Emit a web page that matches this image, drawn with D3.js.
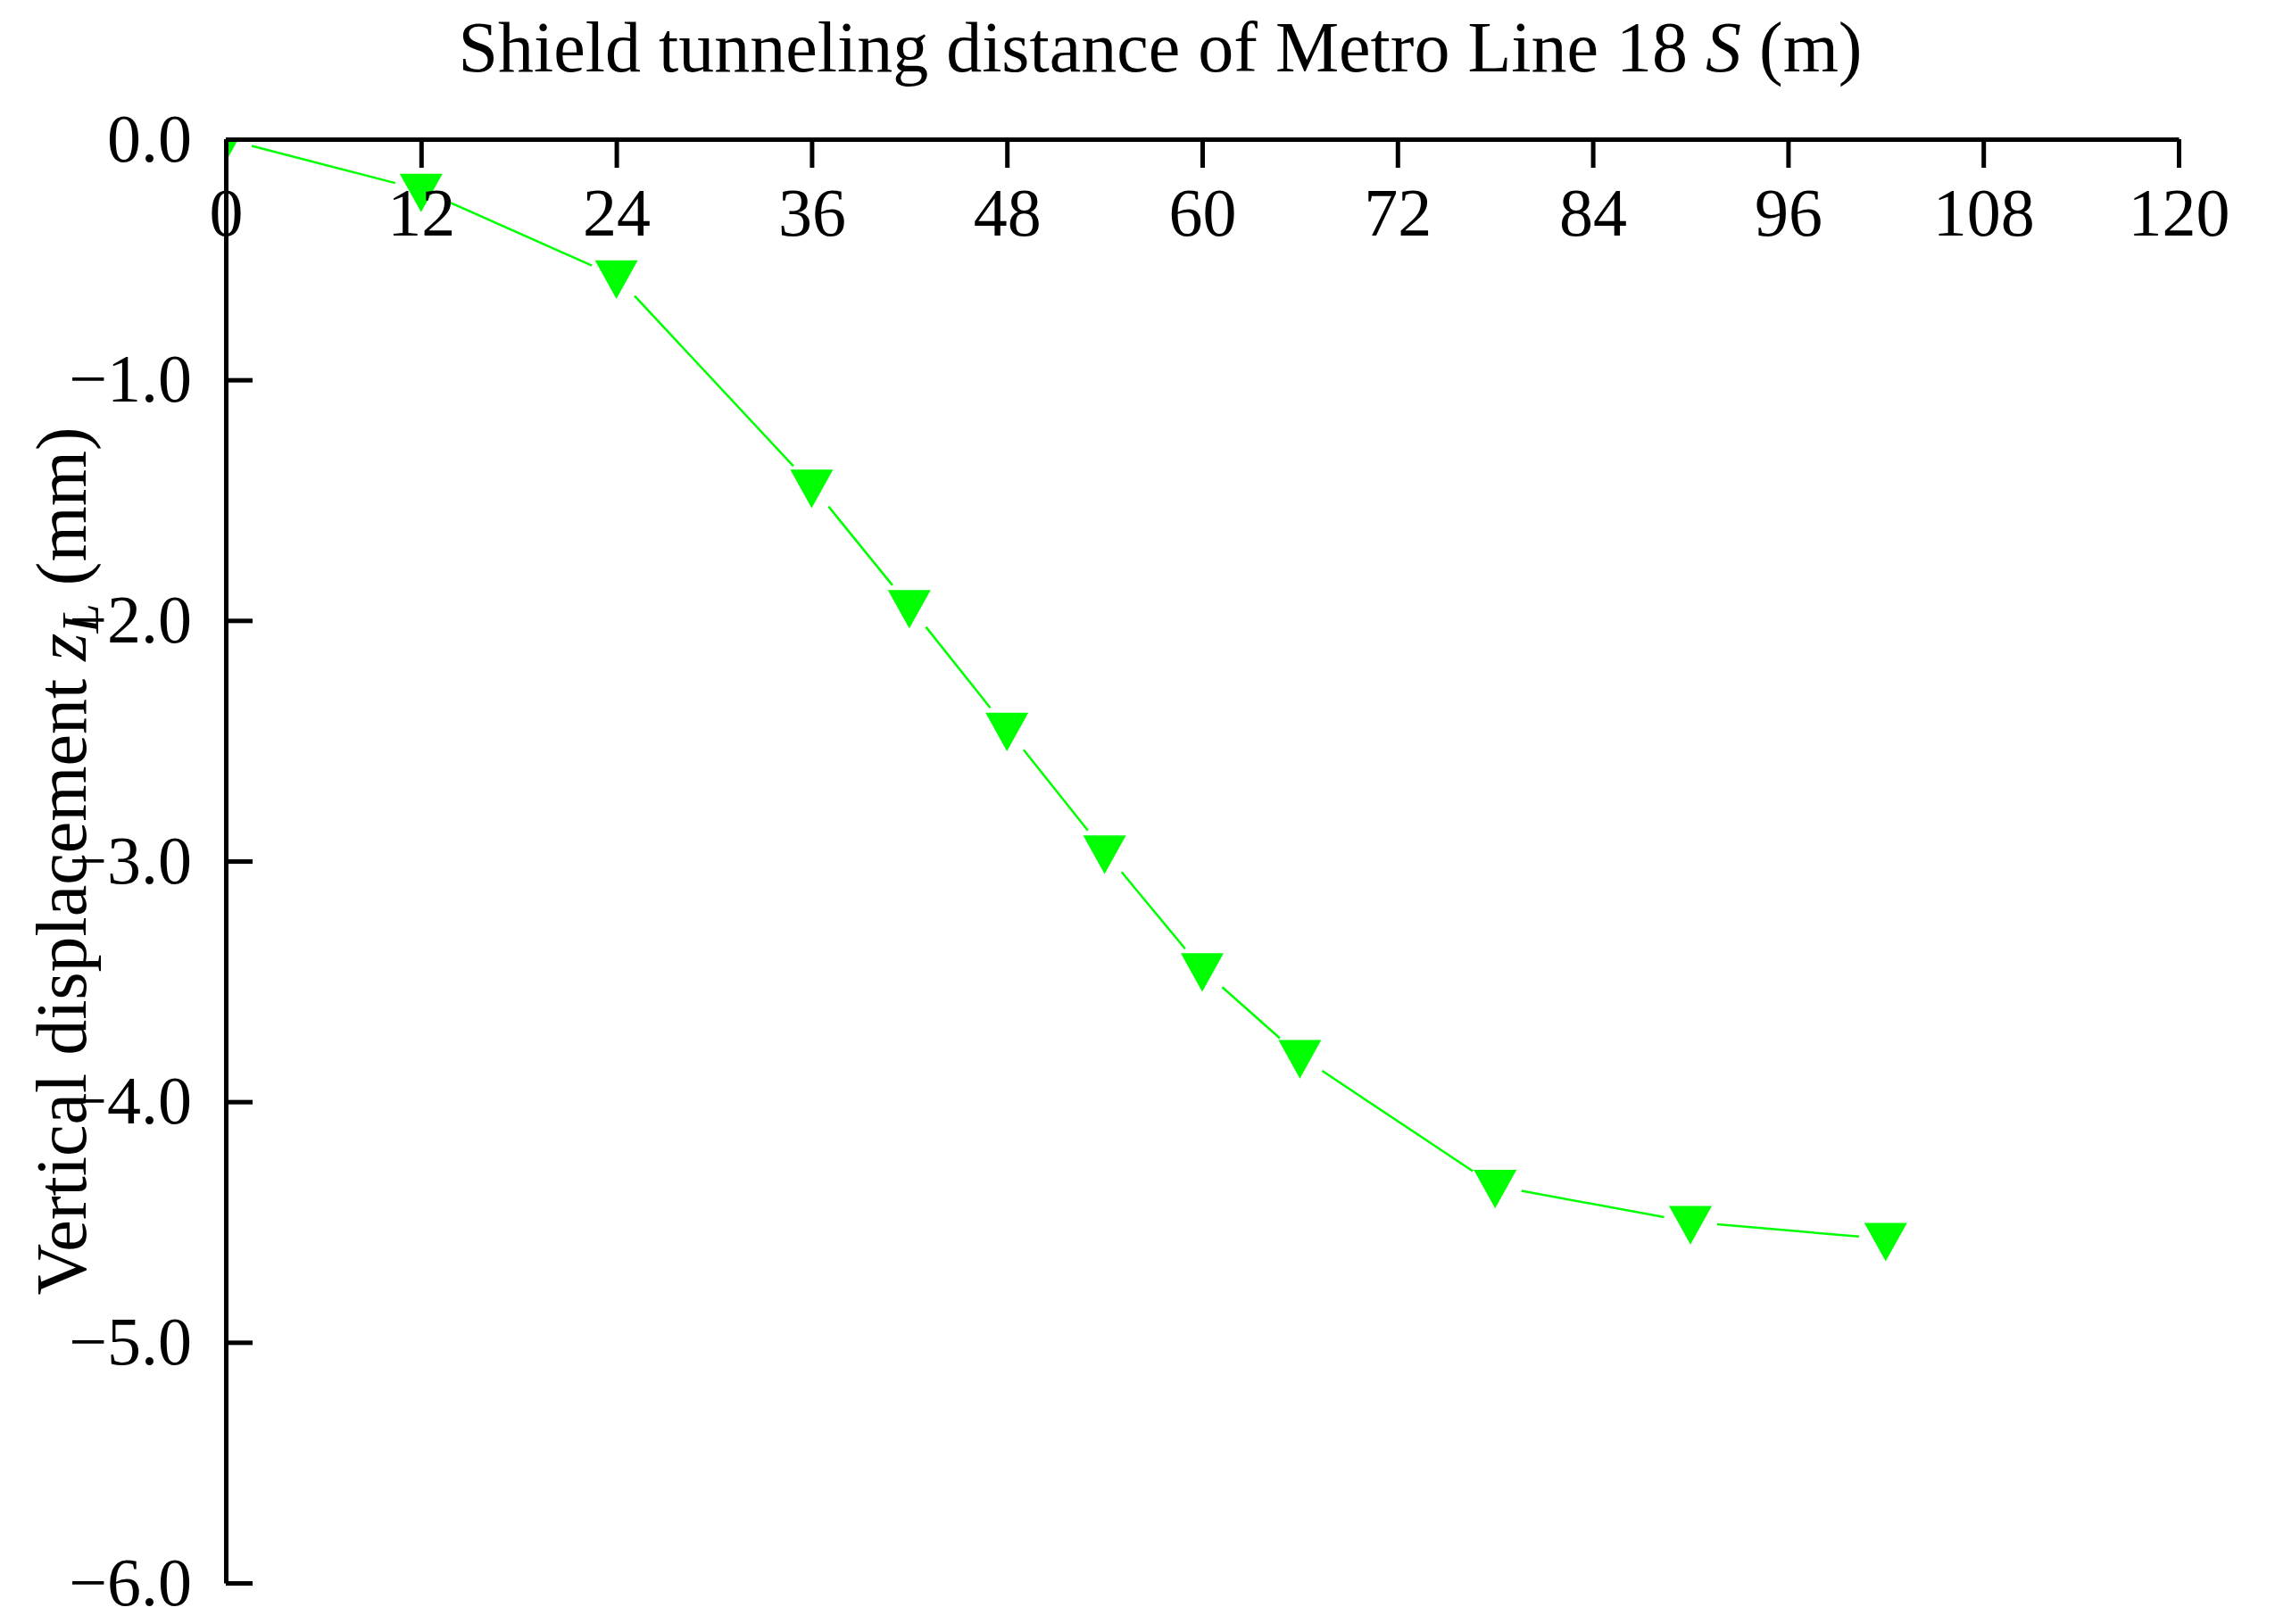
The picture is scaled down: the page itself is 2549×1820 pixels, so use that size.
<!DOCTYPE html><html><head><meta charset="utf-8"><script src="https://cdn.jsdelivr.net/npm/d3@7"></script>
<style>body{margin:0;background:#fff}text{font-family:"Liberation Serif","Times New Roman",serif}</style></head><body>
<svg id="c" width="2549" height="1820"></svg>
<script>
const xs=[0,12,24,36,42,48,54,60,66,78,90,102];
const zs=[0,-0.21,-0.57,-1.44,-1.94,-2.45,-2.96,-3.45,-3.81,-4.35,-4.5,-4.57];
const xTicks=[0,12,24,36,48,60,72,84,96,108,120];
const yTicks=[0,-1,-2,-3,-4,-5,-6];
const svg=d3.select("#c");
const L=253,R=2441,T=156,B=1774;
const x=d3.scaleLinear().domain([0,120]).range([L,R]);
const y=d3.scaleLinear().domain([0,-6]).range([T,B]);
svg.append("defs").append("clipPath").attr("id","cp").append("rect").attr("x",L).attr("y",T).attr("width",R-L).attr("height",B-T);
const g=svg.append("g").attr("clip-path","url(#cp)");
const pts=xs.map((v,i)=>[x(v),y(zs[i])]);
const gap=30;
for(let i=0;i<pts.length-1;i++){const [x1,y1]=pts[i],[x2,y2]=pts[i+1];const d=Math.hypot(x2-x1,y2-y1);const ux=(x2-x1)/d,uy=(y2-y1)/d;
g.append("line").attr("x1",x1+ux*gap).attr("y1",y1+uy*gap).attr("x2",x2-ux*gap).attr("y2",y2-uy*gap).attr("stroke","#00ff00").attr("stroke-width",2.5);}
const s=24;
g.selectAll("path.m").data(pts).join("path").attr("d",d=>`M${d[0]-s},${d[1]-s*0.75}L${d[0]+s},${d[1]-s*0.75}L${d[0]},${d[1]+s*1.05}Z`).attr("fill","#00ff00");
const ax=svg.append("g").attr("transform",`translate(0,${T})`).call(d3.axisBottom(x).tickValues(xTicks).tickSize(32).tickPadding(22).tickSizeOuter(0));
const ay=svg.append("g").attr("transform",`translate(${L},0)`).call(d3.axisRight(y).tickValues(yTicks).tickSize(30).tickSizeOuter(0));
ay.selectAll(".tick text").attr("x",-38).attr("text-anchor","end");
[ax,ay].forEach(a=>{a.select(".domain").attr("stroke","#000").attr("stroke-width",5);a.selectAll(".tick line").attr("stroke","#000").attr("stroke-width",5);a.selectAll(".tick text").attr("font-size",76).attr("fill","#000").attr("font-family","Liberation Serif");});
svg.append("text").attr("x",1300).attr("y",80).attr("text-anchor","middle").attr("font-size",80).html('Shield tunneling distance of Metro Line 18 <tspan font-style="italic">S</tspan> (m)');
svg.append("text").attr("transform","translate(96,965) rotate(-90)").attr("text-anchor","middle").attr("font-size",80).html('Vertical displacement <tspan font-style="italic">z</tspan><tspan font-style="italic" font-size="60" dy="14">L</tspan><tspan dy="-14"> (mm)</tspan>');
</script></body></html>
